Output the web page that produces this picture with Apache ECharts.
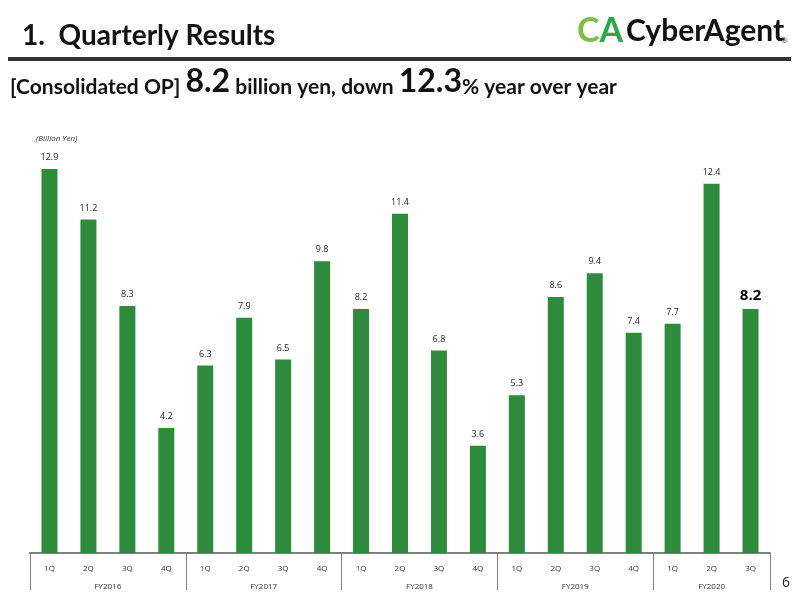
<!DOCTYPE html>
<html>
<head>
<meta charset="utf-8">
<script src="https://cdn.jsdelivr.net/npm/echarts@6/dist/echarts.min.js"></script>
<style>
  html, body { margin: 0; padding: 0; background: #fff; }
  #main { width: 800px; height: 600px; }
</style>
</head>
<body>
<div id="main"></div>
<script>
// quarterly operating profit, billion yen
var quarters = ['1Q', '2Q', '3Q', '4Q', '1Q', '2Q', '3Q', '4Q', '1Q', '2Q', '3Q', '4Q',
                '1Q', '2Q', '3Q', '4Q', '1Q', '2Q', '3Q'];
var values = [12.9, 11.2, 8.3, 4.2, 6.3, 7.9, 6.5, 9.8, 8.2, 11.4, 6.8, 3.6,
              5.3, 8.6, 9.4, 7.4, 7.7, 12.4, 8.2];
var years = ['FY2016', 'FY2017', 'FY2018', 'FY2019', 'FY2020'];
var yearSizes = [4, 4, 4, 4, 3];

// year group boundaries and centres on the 0..19 scale
var bounds = [0];
var centers = [];
for (var i = 0; i < yearSizes.length; ++i) {
    centers.push(bounds[i] + yearSizes[i] / 2);
    bounds.push(bounds[i] + yearSizes[i]);
}

var barData = values.map(function (v, i) {
    if (i == values.length - 1) {
        return { value: v, label: { fontSize: 15, fontWeight: 'bold', color: '#000', distance: 6 } };
    }
    return v;
});

var myChart = echarts.init(document.getElementById('main'));

var option = {
    backgroundColor: '#fff',
    animation: false,
    grid: { left: 30, right: 30, top: 166, bottom: 47 },
    xAxis: [{
        type: 'category',
        data: quarters,
        position: 'bottom',
        axisLine: { lineStyle: { color: '#7f7f7f', width: 2 } },
        axisTick: { length: 19, lineStyle: { color: '#7f7f7f', width: 1 } },
        axisLabel: { fontSize: 8, color: '#333', margin: 12, fontFamily: 'Open Sans' }
    }, {
        type: 'value',
        min: 0,
        max: bounds[bounds.length - 1],
        position: 'bottom',
        axisLine: { show: false },
        splitLine: { show: false },
        axisTick: { show: true, length: 37, customValues: bounds, lineStyle: { color: '#7f7f7f', width: 1 } },
        axisLabel: {
            show: true,
            customValues: centers,
            margin: 30,
            fontSize: 8,
            color: '#333',
            fontFamily: 'Open Sans',
            formatter: function (v) {
                var k = centers.indexOf(v);
                return k >= 0 ? years[k] : '';
            }
        }
    }],
    yAxis: {
        type: 'value',
        min: 0,
        max: 13,
        show: false
    },
    series: [{
        type: 'bar',
        xAxisIndex: 0,
        data: barData,
        barWidth: 16,
        itemStyle: { color: '#2e8b3d' },
        label: {
            show: true,
            position: 'top',
            distance: 7,
            fontSize: 9,
            color: '#222',
            fontFamily: 'Open Sans',
            formatter: function (p) { return p.value.toFixed(1); }
        }
    }],
    graphic: [
        {
            type: 'text', left: 22, top: 22,
            style: { text: '1.  Quarterly Results', font: 'bold 28px Lato', fill: '#111' }
        },
        {
            type: 'rect', shape: { x: 8, y: 57, width: 783, height: 4 },
            style: { fill: '#333' }
        },
        {
            type: 'text', left: 10, top: 66,
            style: {
                text: '{n|[Consolidated OP] }{b|8.2}{n| billion yen, down }{b|12.3}{n|% year over year}',
                rich: {
                    n: { font: 'bold 21px Lato', fill: '#111', verticalAlign: 'bottom', lineHeight: 36 },
                    b: { font: 'bold 32px Lato', fill: '#111', verticalAlign: 'bottom', lineHeight: 36 }
                }
            }
        },
        {
            type: 'text', left: 577, top: 14,
            style: {
                text: '{c|C}{a|A}',
                rich: {
                    c: { font: 'bold 34px Lato', fill: '#7ac143' },
                    a: { font: 'bold 34px Lato', fill: '#2aa84a' }
                }
            }
        },
        {
            type: 'text', left: 626, top: 16,
            style: { text: 'CyberAgent', font: 'bold 30px Lato', fill: '#111' }
        },
        {
            type: 'text', left: 781, top: 36,
            style: { text: '®', font: '8px Lato', fill: '#111' }
        },
        {
            type: 'text', left: 36, top: 135,
            style: { text: '(Billion Yen)', font: 'italic 8px Open Sans', fill: '#333' }
        },
        {
            type: 'text', left: 782, top: 576,
            style: { text: '6', font: '14px Open Sans', fill: '#222' }
        }
    ]
};

myChart.setOption(option);
</script>
</body>
</html>
